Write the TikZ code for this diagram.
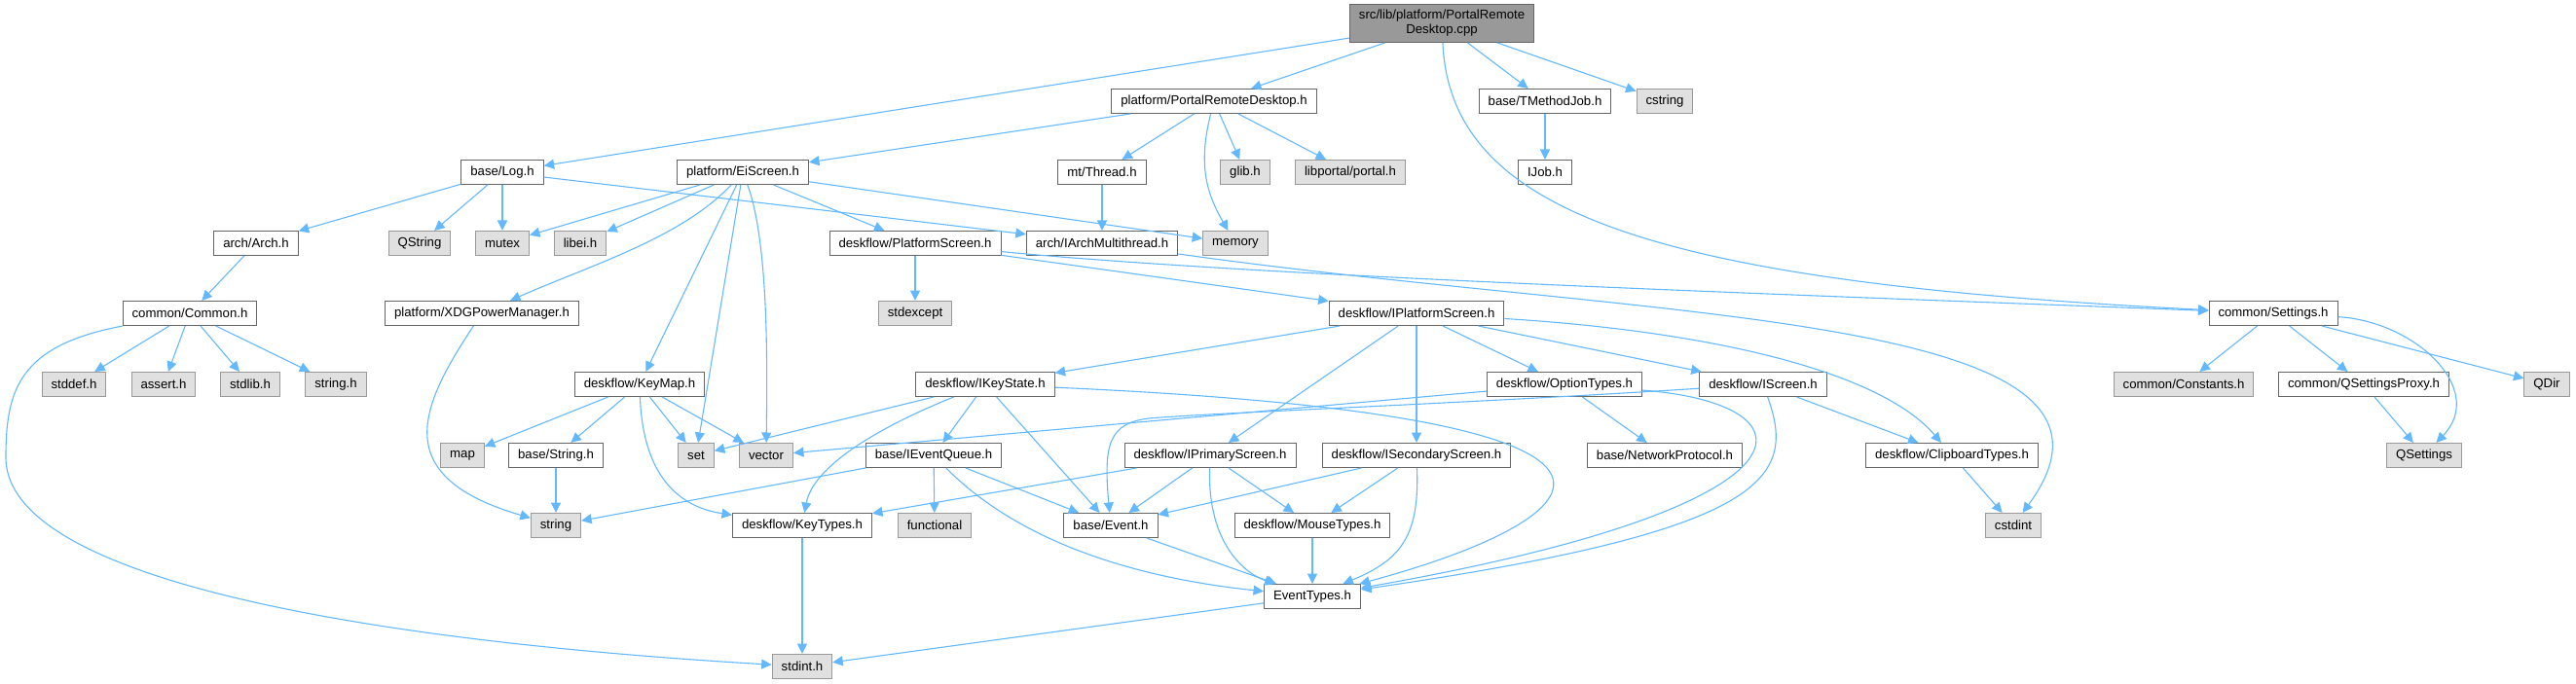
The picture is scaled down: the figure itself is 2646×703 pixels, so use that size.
\documentclass[tikz,border=0pt]{standalone}
\usepackage{fontspec}
\setmainfont{Liberation Sans}
\usepackage{tikz}
\usetikzlibrary{arrows.meta}
\definecolor{edgeblue}{HTML}{63B8FF}
\definecolor{boxline}{HTML}{666666}
\definecolor{extline}{HTML}{999999}
\definecolor{extfill}{HTML}{E0E0E0}
\definecolor{rootfill}{HTML}{999999}

\begin{document}
\begin{tikzpicture}[x=1pt,y=-1pt]
\tikzset{filebox/.style={draw=boxline,fill=white,line width=1pt,minimum height=25pt,inner xsep=9.5pt,inner ysep=0pt,font=\fontsize{13.2}{15}\selectfont},
sysbox/.style={filebox,draw=extline,fill=extfill},
rootbox/.style={filebox,fill=rootfill,align=center,minimum height=39pt},
inc/.style={draw=edgeblue,line width=1.1pt,-{Triangle[length=10.5pt,width=10pt]}}}
\useasboundingbox (0,0) rectangle (2646,703);

% Nodo raiz
\node (1) at (1481,24) [rootbox] {src/lib/platform/PortalRemote\\Desktop.cpp};
% fila 1
\node (2) at (1247,104) [filebox] {platform/PortalRemoteDesktop.h};
\node (3) at (1587,104) [filebox] {base/TMethodJob.h};
\node (4) at (1710,104) [sysbox] {cstring};
% fila 2
\node (5) at (516,177) [filebox] {base/Log.h};
\node (6) at (763,177) [filebox] {platform/EiScreen.h};
\node (7) at (1132,177) [filebox] {mt/Thread.h};
\node (8) at (1279,177) [sysbox] {glib.h};
\node (9) at (1387,177) [sysbox] {libportal/portal.h};
\node (10) at (1587,177) [filebox] {IJob.h};
% fila 3
\node (11) at (263,250) [filebox] {arch/Arch.h};
\node (12) at (431,250) [sysbox] {QString};
\node (13) at (516,250) [sysbox] {mutex};
\node (14) at (596,250) [sysbox] {libei.h};
\node (15) at (940,250) [filebox] {deskflow/PlatformScreen.h};
\node (16) at (1132,250) [filebox] {arch/IArchMultithread.h};
\node (17) at (1269,250) [sysbox] {memory};
% fila 4
\node (18) at (195,322) [filebox] {common/Common.h};
\node (19) at (495,322) [filebox] {platform/XDGPowerManager.h};
\node (20) at (940,322) [sysbox] {stdexcept};
\node (21) at (1455,322) [filebox] {deskflow/IPlatformScreen.h};
\node (22) at (2335,322) [filebox] {common/Settings.h};
% fila 5
\node (23) at (76,395) [sysbox] {stddef.h};
\node (24) at (168,395) [sysbox] {assert.h};
\node (25) at (257,395) [sysbox] {stdlib.h};
\node (26) at (345,395) [sysbox] {string.h};
\node (27) at (657,395) [filebox] {deskflow/KeyMap.h};
\node (28) at (1012,395) [filebox] {deskflow/IKeyState.h};
\node (29) at (1607,395) [filebox] {deskflow/OptionTypes.h};
\node (30) at (1811,395) [filebox] {deskflow/IScreen.h};
\node (31) at (2243,395) [sysbox] {common/Constants.h};
\node (32) at (2428,395) [filebox] {common/QSettingsProxy.h};
\node (33) at (2616,395) [sysbox] {QDir};
% fila 6
\node (34) at (475,468) [sysbox] {map};
\node (35) at (571,468) [filebox] {base/String.h};
\node (36) at (715,468) [sysbox] {set};
\node (37) at (787,468) [sysbox] {vector};
\node (38) at (959,468) [filebox] {base/IEventQueue.h};
\node (39) at (1243,468) [filebox] {deskflow/IPrimaryScreen.h};
\node (40) at (1455,468) [filebox] {deskflow/ISecondaryScreen.h};
\node (41) at (1710,468) [filebox] {base/NetworkProtocol.h};
\node (42) at (2005,468) [filebox] {deskflow/ClipboardTypes.h};
\node (43) at (2490,468) [sysbox] {QSettings};
% fila 7
\node (44) at (571,540) [sysbox] {string};
\node (45) at (824,540) [filebox] {deskflow/KeyTypes.h};
\node (46) at (960,540) [sysbox] {functional};
\node (47) at (1141,540) [filebox] {base/Event.h};
\node (48) at (1348,540) [filebox] {deskflow/MouseTypes.h};
\node (49) at (2068,540) [sysbox] {cstdint};
% filas 8 y 9
\node (50) at (1348,613) [filebox] {EventTypes.h};
\node (51) at (824,685) [sysbox] {stdint.h};

\path
(1) edge [inc] (2)
(1) edge [inc] (3)
(1) edge [inc] (4)
(1) edge [inc] (5)
(2) edge [inc] (6)
(2) edge [inc] (7)
(2) edge [inc] (8)
(2) edge [inc] (9)
(3) edge [inc] (10)
(5) edge [inc] (11)
(5) edge [inc] (12)
(5) edge [inc] (13)
(5) edge [inc] (16)
(6) edge [inc] (13)
(6) edge [inc] (14)
(6) edge [inc] (15)
(6) edge [inc] (17)
(6) edge [inc] (27)
(6) edge [inc] (36)
(7) edge [inc] (16)
(11) edge [inc] (18)
(15) edge [inc] (20)
(15) edge [inc] (21)
(18) edge [inc] (23)
(18) edge [inc] (24)
(18) edge [inc] (25)
(18) edge [inc] (26)
(21) edge [inc] (28)
(21) edge [inc] (39)
(21) edge [inc] (40)
(21) edge [inc] (29)
(21) edge [inc] (30)
(22) edge [inc] (31)
(22) edge [inc] (32)
(22) edge [inc] (33)
(27) edge [inc] (34)
(27) edge [inc] (35)
(27) edge [inc] (36)
(27) edge [inc] (37)
(28) edge [inc] (36)
(28) edge [inc] (38)
(28) edge [inc] (47)
(29) edge [inc] (37)
(29) edge [inc] (41)
(30) edge [inc] (42)
(32) edge [inc] (43)
(35) edge [inc] (44)
(38) edge [inc] (44)
(38) edge [inc] (46)
(38) edge [inc] (47)
(39) edge [inc] (45)
(39) edge [inc] (47)
(39) edge [inc] (48)
(40) edge [inc] (47)
(40) edge [inc] (48)
(42) edge [inc] (49)
(45) edge [inc] (51)
(47) edge [inc] (50)
(48) edge [inc] (50)
(50) edge [inc] (51);
% --- Flechas curvas ---
\draw[inc] (1) .. controls (1490,220) and (1700,290) .. (22);
\draw[inc] (15) .. controls (1300,285) and (1900,305) .. (22);
\draw[inc] (16) .. controls (1700,330) and (2230,320) .. (49);
\draw[inc] (21) .. controls (1750,340) and (1930,380) .. (42);
\draw[inc] (2) .. controls (1230,170) and (1240,200) .. (17);
\draw[inc] (6) .. controls (700,245) and (600,275) .. (19);
\draw[inc] (6) .. controls (790,250) and (788,380) .. (37);
\draw[inc] (19) .. controls (430,420) and (400,490) .. (44);
\draw[inc] (18) .. controls (20,355) and (6,400) .. (6,470) .. controls (6,600) and (400,660) .. (51);
\draw[inc] (27) .. controls (660,480) and (690,520) .. (45);
\draw[inc] (28) .. controls (900,440) and (835,480) .. (45);
\draw[inc] (28) .. controls (1800,430) and (1620,540) .. (50);
\draw[inc] (29) .. controls (1870,415) and (1880,520) .. (50);
\draw[inc] (30) .. controls (1500,415) and (1250,424) .. (1180,430) .. controls (1140,435) and (1133,455) .. (47);
\draw[inc] (30) .. controls (1845,490) and (1820,545) .. (50);
\draw[inc] (38) .. controls (1030,540) and (1130,590) .. (50);
\draw[inc] (39) .. controls (1240,560) and (1280,590) .. (50);
\draw[inc] (40) .. controls (1458,550) and (1440,575) .. (50);
\draw[inc] (22) .. controls (2480,330) and (2555,400) .. (43);

\end{tikzpicture}
\end{document}
